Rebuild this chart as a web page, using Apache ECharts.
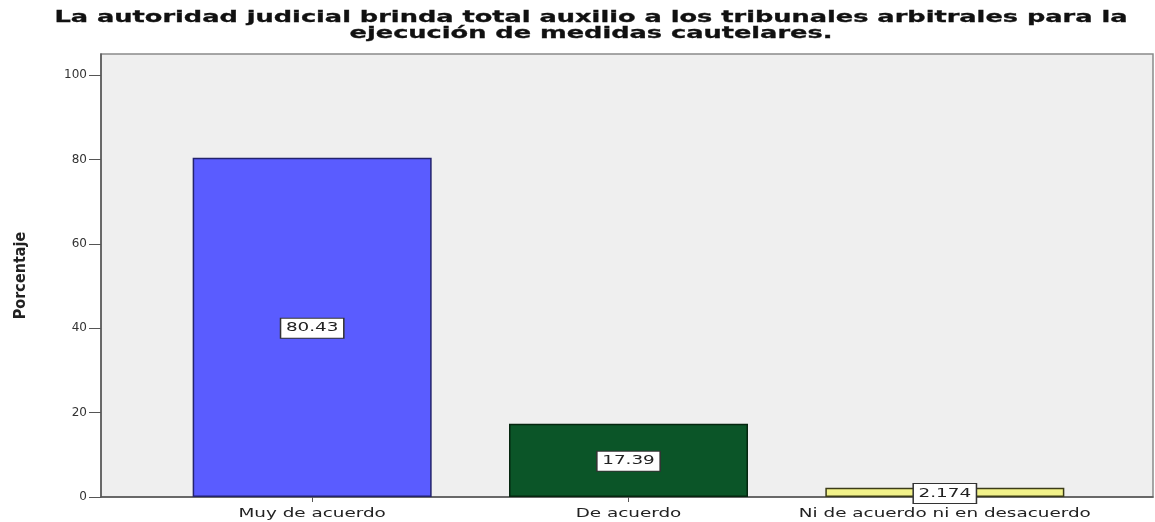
<!DOCTYPE html>
<html>
<head>
<meta charset="utf-8">
<style>
  html, body { margin: 0; padding: 0; background: #ffffff; }
  #chart { width: 1155px; height: 522px; }
</style>
<script src="https://cdn.jsdelivr.net/npm/echarts@6/dist/echarts.min.js"></script>
</head>
<body>
<div id="chart"></div>
<script>
// Survey responses (percent of respondents)
const categories = ['Muy de acuerdo', 'De acuerdo', 'Ni de acuerdo ni en desacuerdo'];
const percentages = [80.43, 17.39, 2.174];
const barColors = ['#5a5cff', '#0b5528', '#f2f28a'];
const barBorders = ['#23236e', '#05260f', '#3c3c18'];
const yTicks = [0, 20, 40, 60, 80, 100];

const titleLine1 = 'La autoridad judicial brinda total auxilio a los tribunales arbitrales para la';
const titleLine2 = 'ejecución de medidas cautelares.';
const titleFont = 'bold 16px "DejaVu Sans"';
const textFont = '12px "DejaVu Sans"';
const wideScale = 1.53;   // the chart's lettering is set wide

// Stretch the title so its first line runs across the chart.
const ctx = document.createElement('canvas').getContext('2d');
ctx.font = titleFont;
const titleScale = 1073 / ctx.measureText(titleLine1).width;

const chart = echarts.init(document.getElementById('chart'), null, { renderer: 'canvas' });

const yMax = 105;
const frameGrid = { left: 101, right: 2, top: 54, bottom: 25 };
const barGrid = { left: 154, right: 52, top: 54, bottom: 25 };

chart.setOption({
  backgroundColor: '#ffffff',
  animation: false,
  grid: [
    Object.assign({ show: true, backgroundColor: '#efefef', borderColor: '#8a8a8a', borderWidth: 1.5 }, frameGrid),
    barGrid
  ],
  xAxis: [
    {
      gridIndex: 0, type: 'value', min: 0, max: 1,
      axisLine: { show: true, onZero: false, lineStyle: { color: '#555555', width: 1.5 } },
      axisTick: { show: false }, axisLabel: { show: false }, splitLine: { show: false }
    },
    {
      gridIndex: 1, type: 'category', data: categories,
      axisLine: { show: false },
      axisTick: { show: true, alignWithLabel: true, length: 5, lineStyle: { color: '#555555' } },
      axisLabel: { show: false },
      splitLine: { show: false }
    }
  ],
  yAxis: [
    {
      gridIndex: 0, type: 'value', min: 0, max: yMax,
      name: 'Porcentaje', nameLocation: 'middle', nameGap: 72, nameRotate: 90,
      nameTextStyle: { fontFamily: 'DejaVu Sans Condensed', fontWeight: 'bold', fontSize: 16, color: '#222222' },
      axisLine: { show: true, lineStyle: { color: '#555555', width: 1.5 } },
      axisTick: { show: true, length: 12, customValues: yTicks, lineStyle: { color: '#555555' } },
      axisLabel: {
        margin: 14, fontFamily: 'DejaVu Sans', fontSize: 12, color: '#333333',
        customValues: yTicks
      },
      splitLine: { show: false }
    },
    {
      gridIndex: 1, type: 'value', min: 0, max: yMax,
      show: false
    }
  ],
  series: [
    {
      type: 'bar', xAxisIndex: 1, yAxisIndex: 1,
      barWidth: 239,
      data: percentages.map((v, i) => ({
        value: v,
        itemStyle: { color: barColors[i], borderColor: barBorders[i], borderWidth: 1.5 }
      }))
    }
  ]
});

// Title, category names and value boxes, placed through the bar grid's axes.
const toPx = (i, v) => chart.convertToPixel({ xAxisIndex: 1, yAxisIndex: 1 }, [i, v]);
const texts = [
  {
    type: 'text', x: 591, y: 18, scaleX: titleScale,
    style: { text: titleLine1, font: titleFont, fill: '#111111', stroke: '#111111', lineWidth: 0.3,
             align: 'center', verticalAlign: 'middle' }
  },
  {
    type: 'text', x: 591, y: 34, scaleX: titleScale,
    style: { text: titleLine2, font: titleFont, fill: '#111111', stroke: '#111111', lineWidth: 0.3,
             align: 'center', verticalAlign: 'middle' }
  }
];
categories.forEach((name, i) => {
  const base = toPx(i, 0);
  texts.push({
    type: 'text', x: base[0], y: base[1] + 17, scaleX: wideScale,
    style: { text: name, font: textFont, fill: '#222222', align: 'center', verticalAlign: 'middle' }
  });
  const mid = toPx(i, percentages[i] / 2);
  texts.push({
    type: 'text', x: mid[0], y: mid[1] + 1, scaleX: wideScale, z: 10,
    style: {
      text: String(percentages[i]), font: textFont, fill: '#222222',
      align: 'center', verticalAlign: 'middle', lineHeight: 14,
      backgroundColor: '#ffffff', borderColor: '#333333', borderWidth: 1,
      padding: [3, 3, 2, 3]
    }
  });
});
chart.setOption({ graphic: texts });
</script>
</body>
</html>
